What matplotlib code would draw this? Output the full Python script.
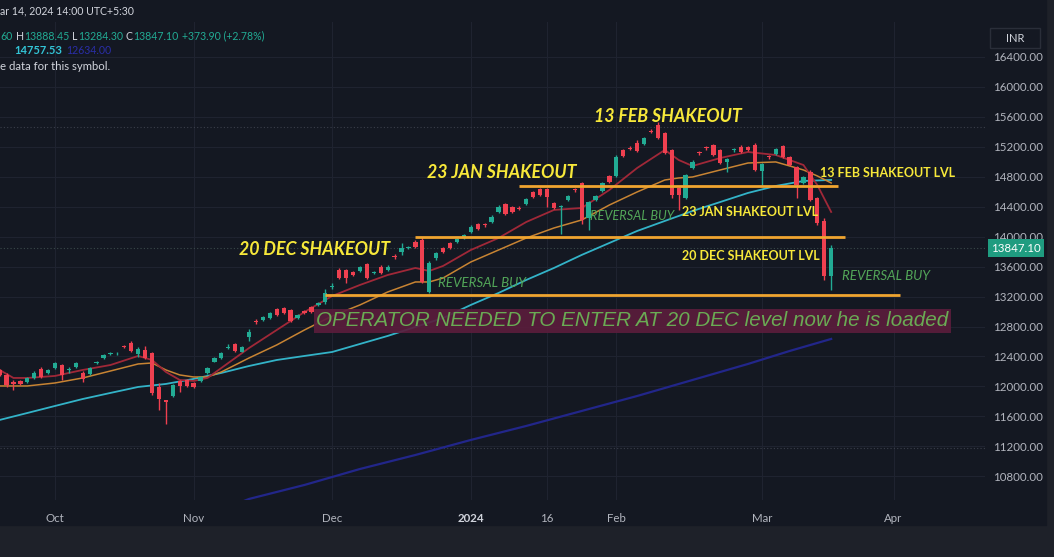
import matplotlib.pyplot as plt
from matplotlib.transforms import blended_transform_factory

W, H = 1054, 557

# daily bars, index 0 = first bar of October
bars = list(range(-8, 113))
opens = [12220, 12153, 12064, 12075, 12065, 12110, 12229, 12175,
         12243, 12282, 12215, 12256, 12175, 12162, 12310, 12375, 12430, 12440, 12535, 12575,
         12430, 12487, 12443, 11997, 11815, 11870, 12075, 12090, 12050, 12077, 12183, 12330,
         12375, 12515, 12567, 12465, 12660, 12870, 12887, 12910, 13034, 13044, 13021, 12910,
         13007, 13057, 13088, 13132, 13330, 13555, 13550, 13532, 13546, 13635, 13510, 13600,
         13555, 13735, 13800, 13855, 13933, 13956, 13265, 13710, 13845, 13911, 13934, 13978,
         14067, 14170, 14160, 14200, 14334, 14437, 14400, 14380, 14437, 14601, 14633, 14633,
         14446, 14400, 14490, 14625, 14717, 14245, 14490, 14614, 14810, 14810, 15158, 15180,
         15255, 15238, 15405, 15492, 15381, 15158, 14647, 14515, 14913, 15125, 15185, 15225,
         15158, 14995, 15155, 15202, 15200, 15225, 14881, 15070, 15105, 15211, 15068, 14935,
         14713, 14868, 14513, 14214, 13473.5]
highs = [12235, 12180, 12080, 12090, 12125, 12200, 12265, 12235,
         12325, 12295, 12255, 12330, 12210, 12255, 12345, 12435, 12455, 12465, 12555, 12600,
         12520, 12540, 12460, 12045, 11825, 12035, 12090, 12105, 12065, 12140, 12255, 12390,
         12455, 12560, 12580, 12545, 12763, 12900, 12945, 12990, 13050, 13060, 13035, 12970,
         13020, 13070, 13125, 13295, 13375, 13575, 13570, 13545, 13605, 13650, 13545, 13615,
         13615, 13765, 13910, 13880, 13950, 13995, 13670, 13800, 13860, 13925, 13980, 14040,
         14150, 14185, 14185, 14285, 14420, 14455, 14415, 14410, 14520, 14615, 14650, 14650,
         14460, 14425, 14560, 14650, 14735, 14480, 14560, 14735, 14825, 15085, 15175, 15205,
         15290, 15330, 15435, 15525, 15395, 15175, 14660, 14840, 15020, 15150, 15210, 15240,
         15175, 15055, 15185, 15220, 15215, 15245, 14985, 15095, 15185, 15230, 15080, 14950,
         14810, 14885, 14530, 14250, 13888.45]
lows = [12140, 11995, 11950, 12020, 12050, 12095, 12115, 12160,
        12230, 12085, 12183, 12240, 12055, 12150, 12295, 12360, 12415, 12425, 12510, 12465,
        12390, 12365, 11880, 11685, 11500, 11860, 11930, 11990, 11980, 12065, 12170, 12320,
        12365, 12495, 12460, 12455, 12600, 12830, 12875, 12895, 12940, 12965, 12860, 12900,
        12965, 12985, 13075, 13100, 13300, 13430, 13380, 13470, 13530, 13430, 13495, 13495,
        13540, 13700, 13755, 13835, 13850, 13385, 13243, 13695, 13785, 13830, 13920, 13965,
        14055, 14090, 14130, 14185, 14320, 14285, 14320, 14350, 14425, 14520, 14545, 14400,
        14365, 14035, 14475, 14595, 14170, 14090, 14475, 14600, 14720, 14795, 15065, 15155,
        15130, 15225, 15380, 15300, 15100, 14510, 14355, 14500, 14900, 15095, 15155, 15075,
        14965, 14870, 15130, 15120, 15145, 14875, 14690, 15040, 15090, 15055, 14940, 14516,
        14700, 14475, 14160, 13420, 13284.3]
closes = [12153, 12019, 12029, 12035, 12113, 12184, 12130, 12220,
          12309, 12153, 12222, 12309, 12095, 12242, 12330, 12420, 12435, 12445, 12530, 12477,
          12500, 12375, 11908, 11832, 11795, 12019, 12005, 12000, 11990, 12122, 12242, 12375,
          12443, 12520, 12473, 12530, 12730, 12860, 12932, 12977, 12954, 12977, 12878, 12954,
          12977, 12998, 13110, 13244, 13335, 13445, 13450, 13488, 13591, 13445, 13532, 13511,
          13600, 13730, 13850, 13860, 13866, 13399, 13653, 13786, 13800, 13845, 13965, 14022,
          14134, 14103, 14155, 14267, 14400, 14299, 14334, 14375, 14504, 14535, 14557, 14535,
          14380, 14410, 14544, 14620, 14223, 14467, 14544, 14721, 14735, 15069, 15078, 15175,
          15148, 15314, 15400, 15314, 15114, 14557, 14557, 14824, 15002, 15120, 15180, 15092,
          14980, 15040, 15160, 15135, 15160, 14891, 14970, 15065, 15168, 15068, 14957, 14690,
          14793, 14490, 14179, 13473.2, 13847.1]

# moving averages
fast_x = [-8, -6, -4, 0, 4, 8, 12, 14, 16, 18, 20, 22, 24, 28, 32, 36, 40, 44, 48, 52, 54, 56,
          60, 64, 68, 72, 76, 80, 84, 88, 90, 92, 96, 100, 104, 108, 110, 112]
fast_y = [12220, 12113, 12113, 12140, 12220, 12286, 12407, 12353, 12193, 12086, 12073, 12113,
          12246, 12513, 12754, 12994, 13208, 13355, 13488, 13582, 13542, 13609, 13822, 13982,
          14196, 14357, 14383, 14624, 14917, 15158, 15024, 14944, 15051, 15131, 15091, 14957,
          14690, 14330]
mid_x = [-8, -4, 0, 4, 8, 12, 14, 16, 18, 20, 22, 24, 28, 32, 36, 40, 44, 48, 52, 54, 56, 60,
         64, 68, 72, 76, 80, 84, 88, 90, 92, 96, 100, 104, 108, 110, 112]
mid_y = [12006, 12006, 12046, 12113, 12206, 12300, 12313, 12220, 12153, 12126, 12126, 12193,
         12380, 12554, 12754, 12941, 13088, 13261, 13395, 13395, 13448, 13662, 13822, 13982,
         14116, 14223, 14423, 14597, 14757, 14784, 14797, 14891, 14984, 14998, 14891, 14811,
         14717]
slow_x = [-8, -4, 0, 4, 8, 12, 16, 20, 24, 28, 32, 36, 40, 44, 48, 52, 56, 60, 64, 68, 72, 76,
          80, 84, 88, 92, 96, 100, 104, 108, 112]
slow_y = [11552, 11645, 11739, 11832, 11913, 11993, 12033, 12100, 12180, 12273, 12353, 12407,
          12460, 12567, 12674, 12794, 12914, 13088, 13248, 13422, 13582, 13756, 13916, 14076,
          14210, 14343, 14463, 14584, 14677, 14744, 14757.53]
long_x = [24, 28, 36, 44, 52, 60, 68, 76, 84, 92, 100, 106, 112]
long_y = [10350, 10497, 10684, 10897, 11084, 11285, 11472, 11672, 11872, 12086, 12300, 12473,
          12634]

# drawn shakeout levels
level_price = [14670, 13996, 13221]
level_from = [67, 52, 39]
level_to = [113, 114, 122]

price_ticks = list(range(10800, 16401, 400))
time_pos = [0, 20, 40, 60, 71, 81, 102, 121]
time_lab = ['Oct', 'Nov', 'Dec', '2024', '16', 'Feb', 'Mar', 'Apr']

BG = '#141822'
GREEN = '#22ab94'
RED = '#ef4050'
GRAY = '#b2b5be'
YELLOW = '#f7e83a'
FONT = ['Lato', 'DejaVu Sans']

fig = plt.figure(figsize=(W / 100, H / 100), dpi=100)
fig.patch.set_facecolor('#1e2129')
fig.add_artist(plt.Rectangle((0, 1 - 525 / H), 1046 / W, 525 / H,
                             transform=fig.transFigure, color=BG, zorder=0))

ax = fig.add_axes([0, 1 - 500 / H, 985 / W, 478 / H])
ax.set_facecolor(BG)
ax.set_xlim(-7.94, 134.2)
ax.set_ylim(10483, 16867)
for s in ax.spines.values():
    s.set_visible(False)

ax.yaxis.tick_right()
ax.set_yticks(price_ticks)
ax.set_yticklabels(['%.2f' % p for p in price_ticks], family=FONT, fontsize=8.3)
ax.set_xticks(time_pos)
ax.set_xticklabels(time_lab, family=FONT, fontsize=8.3)
ax.tick_params(length=0, colors=GRAY)
ax.tick_params(axis='y', pad=6)
ax.tick_params(axis='x', pad=9)
for t in ax.get_xticklabels():
    if t.get_text() == '2024':
        t.set_fontweight('bold')
        t.set_color('#d1d4dc')
ax.grid(True, color='#1f2330', linewidth=0.8)
ax.set_axisbelow(True)

# faint dotted lines
ax.axhline(15465, color='#3b3f4b', linestyle=(0, (1, 2)), linewidth=0.8)
ax.axhline(11178, color='#3b3f4b', linestyle=(0, (1, 2)), linewidth=0.8)
ax.axhline(closes[-1], color='#3b4a4a', linestyle=(0, (1, 2)), linewidth=0.8)

# moving averages
ax.plot(long_x, long_y, color='#22268a', linewidth=1.6)
ax.plot(slow_x, slow_y, color='#33b3c8', linewidth=1.3)
ax.plot(mid_x, mid_y, color='#c88433', linewidth=1.1)
ax.plot(fast_x, fast_y, color='#a02838', linewidth=1.3)

# candles
cols = [GREEN if c >= o else RED for o, c in zip(opens, closes)]
ax.vlines(bars, lows, highs, colors=cols, linewidth=1, zorder=3)
bottoms = [min(o, c) for o, c in zip(opens, closes)]
heights = [max(abs(c - o), 12) for o, c in zip(opens, closes)]
ax.bar(bars, heights, bottom=bottoms, width=0.62, color=cols, linewidth=0, zorder=4)

# shakeout level lines
ax.hlines(level_price, level_from, level_to, colors='#f0a530', linewidth=2, zorder=5)

# annotations
big = dict(color=YELLOW, fontsize=12.8, fontweight='bold', fontstyle='italic',
           family=FONT, ha='center', va='center', zorder=6)
ax.text(37.4, 13822, '20 DEC SHAKEOUT', **big)
ax.text(64.4, 14851, '23 JAN SHAKEOUT', **big)
ax.text(88.5, 15599, '13 FEB SHAKEOUT', **big)

lvl = dict(color=YELLOW, fontsize=9, fontweight='bold', family=FONT,
           ha='left', va='center', zorder=6)
ax.text(110.4, 14851, '13 FEB SHAKEOUT LVL', **lvl)
ax.text(90.5, 14330, '23 JAN SHAKEOUT LVL', **lvl)
ax.text(90.5, 13742, '20 DEC SHAKEOUT LVL', **lvl)

rev = dict(color='#52a558', fontstyle='italic', family=FONT, ha='left', va='center', zorder=6)
ax.text(55.3, 13382, 'REVERSAL BUY', fontsize=9.6, **rev)
ax.text(77.2, 14276, 'REVERSAL BUY', fontsize=9.2, **rev)
ax.text(113.6, 13475, 'REVERSAL BUY', fontsize=9.6, **rev)

ax.text(37.7, 12874, 'OPERATOR NEEDED TO ENTER AT 20 DEC level now he is loaded',
        color='#6aab54', fontsize=14.9, fontstyle='italic', family=['Liberation Sans', 'DejaVu Sans'],
        ha='left', va='center', zorder=6,
        bbox=dict(boxstyle='square,pad=0.1', fc='#5a1d3c', ec='none', alpha=0.92))

# price tag for last close
tr = blended_transform_factory(fig.transFigure, ax.transData)
fig.text(1016 / W, closes[-1], '%.2f' % closes[-1], transform=tr, color='white',
         fontsize=8.3, family=FONT, ha='center', va='center',
         bbox=dict(boxstyle='square,pad=0.3', fc='#1f9c80', ec='none'))

# INR box
fig.add_artist(plt.Rectangle((990 / W, 1 - 48 / H), 50 / W, 20 / H, transform=fig.transFigure,
                             fc=BG, ec='#2a2e39', linewidth=1, zorder=5))
fig.text(1015 / W, 1 - 38 / H, 'INR', color='#d1d4dc', fontsize=8, family=FONT,
         ha='center', va='center', zorder=6)

# legend / header text
def ft(x, y, s, c, **kw):
    fig.text(x / W, 1 - y / H, s, color=c, va='center', ha='left', family=FONT, **kw)

ft(0, 11, 'ar 14, 2024 14:00 UTC+5:30', '#d1d4dc', fontsize=7.6)
ft(0, 36, '60', GREEN, fontsize=7.6)
ft(16, 36, 'H', '#d1d4dc', fontsize=7.6)
ft(24, 36, '13888.45', GREEN, fontsize=7.6)
ft(72, 36, 'L', '#d1d4dc', fontsize=7.6)
ft(78, 36, '13284.30', GREEN, fontsize=7.6)
ft(126, 36, 'C', '#d1d4dc', fontsize=7.6)
ft(133, 36, '13847.10', GREEN, fontsize=7.6)
ft(182, 36, '+373.90 (+2.78%)', GREEN, fontsize=7.6)
ft(14, 51, '%.2f' % slow_y[-1], '#33c4d6', fontsize=8, fontweight='bold')
ft(66, 51, '%.2f' % long_y[-1], '#2a2ea8', fontsize=7.6)
ft(0, 66, 'e data for this symbol.', '#d1d4dc', fontsize=8.2)

fig.savefig('out.png', dpi=100, facecolor=fig.get_facecolor())
